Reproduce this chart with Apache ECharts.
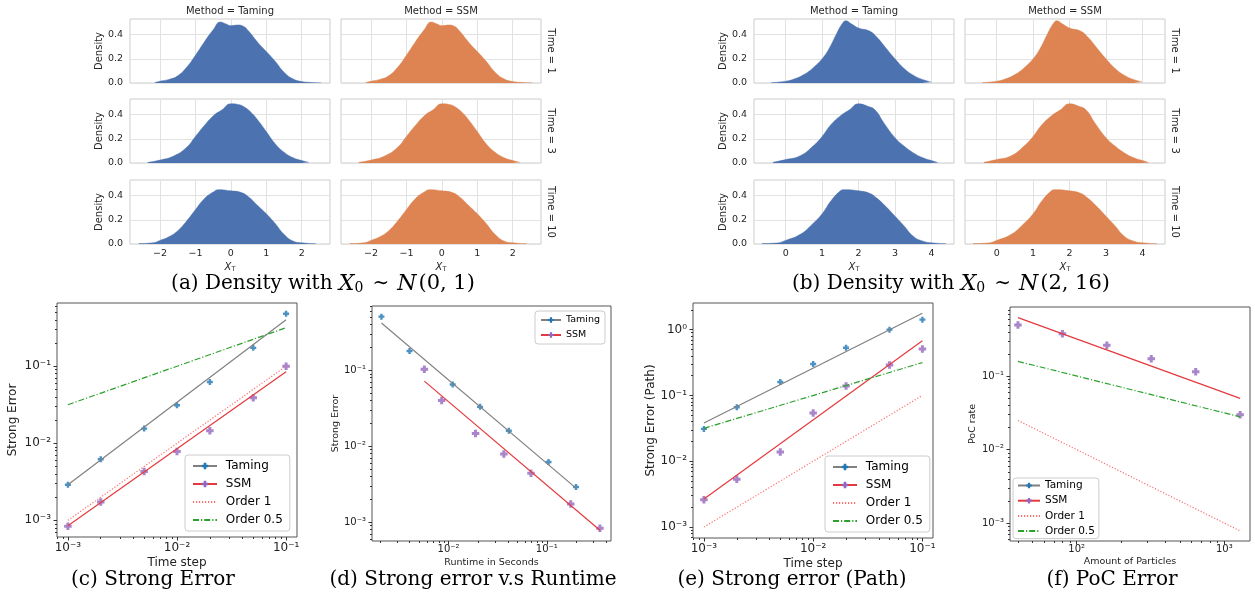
<!DOCTYPE html>
<html>
<head>
<meta charset="utf-8">
<script src="https://cdn.jsdelivr.net/npm/echarts@6/dist/echarts.min.js"></script>
<style>
  html, body { margin: 0; padding: 0; background: #fff; }
  #chart { width: 1255px; height: 598px; }
</style>
</head>
<body>
<div id="chart"></div>
<script>
// density curves [x, density] (Taming and SSM facets look identical)
const densityA1 = [[-2.15, 0.004], [-2.0, 0.015], [-1.75, 0.03], [-1.5, 0.06], [-1.25, 0.13], [-1.0, 0.23], [-0.75, 0.34], [-0.5, 0.44], [-0.3, 0.505], [-0.15, 0.49], [0, 0.475], [0.2, 0.48], [0.35, 0.47], [0.5, 0.43], [0.75, 0.34], [1.0, 0.26], [1.25, 0.18], [1.5, 0.09], [1.75, 0.035], [2.0, 0.012], [2.25, 0.005], [2.55, 0.002]];
const densityA3 = [[-2.35, 0.005], [-2.0, 0.024], [-1.6, 0.06], [-1.25, 0.13], [-1.0, 0.22], [-0.75, 0.31], [-0.5, 0.39], [-0.25, 0.44], [0, 0.49], [0.2, 0.485], [0.4, 0.46], [0.6, 0.41], [0.8, 0.34], [1.0, 0.26], [1.25, 0.16], [1.5, 0.09], [1.75, 0.045], [2.0, 0.02], [2.2, 0.006]];
const densityA10 = [[-2.6, 0.003], [-2.2, 0.01], [-2.0, 0.03], [-1.75, 0.06], [-1.5, 0.11], [-1.25, 0.19], [-1.0, 0.285], [-0.75, 0.375], [-0.5, 0.43], [-0.35, 0.45], [0, 0.44], [0.25, 0.43], [0.5, 0.39], [0.75, 0.32], [1.0, 0.25], [1.25, 0.17], [1.5, 0.08], [1.75, 0.025], [2.0, 0.01], [2.4, 0.003]];
const densityB1 = [[-0.4, 0.003], [0, 0.015], [0.25, 0.035], [0.5, 0.07], [0.75, 0.125], [1.0, 0.2], [1.2, 0.29], [1.4, 0.41], [1.55, 0.49], [1.65, 0.515], [1.8, 0.49], [2.0, 0.455], [2.3, 0.43], [2.5, 0.38], [2.75, 0.29], [3.0, 0.2], [3.25, 0.12], [3.5, 0.065], [3.75, 0.03], [4.0, 0.008]];
const densityB3 = [[-0.35, 0.005], [0, 0.028], [0.4, 0.06], [0.75, 0.14], [1.0, 0.22], [1.25, 0.32], [1.5, 0.39], [1.75, 0.44], [2.0, 0.49], [2.25, 0.47], [2.45, 0.44], [2.7, 0.33], [3.0, 0.21], [3.25, 0.14], [3.5, 0.085], [3.75, 0.045], [4.0, 0.02], [4.17, 0.005]];
const densityB10 = [[-0.65, 0.003], [-0.25, 0.008], [0, 0.03], [0.4, 0.08], [0.75, 0.17], [1.0, 0.25], [1.25, 0.36], [1.5, 0.44], [1.6, 0.45], [2.0, 0.44], [2.3, 0.42], [2.5, 0.38], [2.75, 0.31], [3.0, 0.23], [3.25, 0.15], [3.5, 0.065], [3.75, 0.025], [4.0, 0.01], [4.4, 0.003]];
const ticksA = [-2, -1, 0, 1, 2];
const ticksB = [0, 1, 2, 3, 4];
const densityTicks = [0, 0.2, 0.4];

// (c) strong error vs time step
const timeSteps = [0.001, 0.002, 0.005, 0.01, 0.02, 0.05, 0.1];
const strongTaming = [0.0029, 0.0062, 0.0155, 0.0312, 0.0625, 0.173, 0.48];
const strongSSM = [0.00084, 0.00173, 0.0043, 0.0078, 0.0145, 0.039, 0.1];
const strongTamingFit = [0.0029, 0.40];
const strongSSMFit = [0.00085, 0.085];
const order1 = [0.001, 0.1];
const order05 = [0.0316, 0.316];

// (d) strong error vs runtime
const runtimeTaming = [0.00207, 0.0040, 0.011, 0.0209, 0.041, 0.104, 0.198];
const runtimeTamingErr = [0.51, 0.18, 0.065, 0.033, 0.016, 0.0062, 0.0029];
const runtimeSSM = [0.00566, 0.0085, 0.0188, 0.0365, 0.069, 0.175, 0.347];
const runtimeSSMErr = [0.103, 0.040, 0.0147, 0.0079, 0.0044, 0.00173, 0.00083];
const runtimeTamingFit = [0.42, 0.0028];
const runtimeSSMFit = [0.072, 0.00078];

// (e) strong error (path)
const pathTaming = [0.031, 0.066, 0.16, 0.30, 0.53, 1.0, 1.42];
const pathSSM = [0.0026, 0.0053, 0.0138, 0.054, 0.139, 0.29, 0.51];
const pathTamingFit = [0.038, 1.77];
const pathSSMFit = [0.00266, 0.68];

// (f) PoC error
const particles = [40, 80, 160, 320, 640, 1280];
const pocSSM = [0.50, 0.38, 0.265, 0.174, 0.115, 0.030];
const pocSSMFit = [0.63, 0.050];
const pocOrder1 = [0.025, 0.00078];
const pocOrder05 = [0.16, 0.028];

const SANS = 'DejaVu Sans';
const SERIF = 'DejaVu Serif';
const BLUE = '#4c72b0', ORANGE = '#dd8452';
const TAMING = '#1f77b4', SSM = '#9467bd';
// filled plus, like matplotlib's 'P'
const plusPath = 'path://M3,0H7V3H10V7H7V10H3V7H0V3H3Z';

const zip = (xs, ys) => xs.map((x, i) => [x, ys[i]]);
const ends = (xs, ys) => [[xs[0], ys[0]], [xs[xs.length - 1], ys[1]]];

const supMap = { '-': '⁻', '0': '⁰', '1': '¹', '2': '²', '3': '³', '4': '⁴', '5': '⁵', '6': '⁶', '7': '⁷', '8': '⁸', '9': '⁹' };
function powLabel(v) {
    const e = Math.round(Math.log10(v));
    return '10' + String(e).split('').map(c => supMap[c]).join('');
}
function minorTicks(lo, hi) {
    const out = [];
    for (let e = Math.floor(lo); e <= Math.ceil(hi); e++) {
        for (let k = 2; k <= 9; k++) {
            const v = k * Math.pow(10, e);
            if (Math.log10(v) > lo && Math.log10(v) < hi) out.push(v);
        }
    }
    return out;
}

const grid = [], xAxis = [], yAxis = [], series = [];

// ---- density facets ----
function addDensityPanel(lefts, xr, ticks, rows) {
    const tops = [19, 99, 180];
    rows.forEach((data, r) => {
        lefts.forEach((left, c) => {
            const gi = grid.length;
            grid.push({ left: left, top: tops[r], width: 200, height: 64, show: true,
                borderColor: '#cccccc', borderWidth: 1, backgroundColor: '#fff' });
            xAxis.push({
                type: 'value', gridIndex: gi, min: xr[0], max: xr[1],
                axisLine: { show: false },
                axisTick: { show: false, customValues: ticks },
                axisLabel: { show: r === 2, customValues: ticks, fontSize: 9.5, color: '#262626', margin: 5,
                    formatter: v => String(v).replace('-', '−') },
                splitLine: { show: true, lineStyle: { color: '#e2e2e2', width: 1 } },
                name: r === 2 ? '{x|X}{t|T}' : '', nameLocation: 'middle', nameGap: 17,
                nameTextStyle: { rich: {
                    x: { fontFamily: SANS, fontStyle: 'italic', fontSize: 10, color: '#262626' },
                    t: { fontFamily: SANS, fontSize: 6.5, color: '#262626', padding: [5, 0, 0, 0] }
                } }
            });
            yAxis.push({
                type: 'value', gridIndex: gi, min: 0, max: 0.53,
                axisLine: { show: false },
                axisTick: { show: false, customValues: densityTicks },
                axisLabel: { show: c === 0, customValues: densityTicks, fontSize: 9.5, color: '#262626', margin: 7,
                    formatter: v => v.toFixed(1) },
                splitLine: { show: true, lineStyle: { color: '#e2e2e2', width: 1 } },
                name: c === 0 ? 'Density' : '', nameLocation: 'middle', nameRotate: 90, nameGap: 25,
                nameTextStyle: { fontSize: 10, color: '#262626' }
            });
            const col = c === 0 ? BLUE : ORANGE;
            series.push({
                type: 'line', xAxisIndex: gi, yAxisIndex: gi, data: data, smooth: 0.5,
                symbol: 'none', silent: true,
                lineStyle: { color: col, width: 0.5 }, itemStyle: { color: col },
                areaStyle: { color: col, opacity: 1 }
            });
        });
    });
}
addDensityPanel([130, 341], [-2.85, 2.8], ticksA, [densityA1, densityA3, densityA10]);
addDensityPanel([754, 965], [-0.87, 4.62], ticksB, [densityB1, densityB3, densityB10]);

// ---- log-log plots ----
function addLogPlot(p) {
    const gi = grid.length;
    grid.push({ left: p.left, top: p.top, width: p.width, height: p.height, show: true,
        borderColor: '#555', borderWidth: 1, backgroundColor: '#fff' });
    const xi = xAxis.length, yi = yAxis.length;
    const lab = { fontSize: p.fs, color: '#222', fontFamily: SANS };
    xAxis.push({
        type: 'log', gridIndex: gi, position: 'bottom', min: Math.pow(10, p.xr[0]), max: Math.pow(10, p.xr[1]),
        axisLine: { show: false },
        axisTick: { length: 3.5, customValues: p.xMajor, lineStyle: { color: '#333' } },
        axisLabel: Object.assign({ customValues: p.xMajor, formatter: powLabel, margin: p.xMargin }, lab),
        splitLine: { show: false },
        name: p.xName, nameLocation: 'middle', nameGap: p.xGap,
        nameTextStyle: { fontSize: p.nameFs, color: '#222' }
    });
    xAxis.push({
        type: 'log', gridIndex: gi, position: 'bottom', min: Math.pow(10, p.xr[0]), max: Math.pow(10, p.xr[1]),
        axisLine: { show: false }, axisLabel: { show: false }, splitLine: { show: false },
        axisTick: { length: 2, customValues: minorTicks(p.xr[0], p.xr[1]), lineStyle: { color: '#333' } }
    });
    yAxis.push({
        type: 'log', gridIndex: gi, position: 'left', min: Math.pow(10, p.yr[0]), max: Math.pow(10, p.yr[1]),
        axisLine: { show: false },
        axisTick: { length: 3.5, customValues: p.yMajor, lineStyle: { color: '#333' } },
        axisLabel: Object.assign({ customValues: p.yMajor, formatter: powLabel, margin: 6 }, lab),
        splitLine: { show: false },
        name: p.yName, nameLocation: 'middle', nameRotate: 90, nameGap: p.yGap,
        nameTextStyle: { fontSize: p.nameFs, color: '#222' }
    });
    yAxis.push({
        type: 'log', gridIndex: gi, position: 'left', min: Math.pow(10, p.yr[0]), max: Math.pow(10, p.yr[1]),
        axisLine: { show: false }, axisLabel: { show: false }, splitLine: { show: false },
        axisTick: { length: 2, customValues: minorTicks(p.yr[0], p.yr[1]), lineStyle: { color: '#333' } }
    });
    return { xAxisIndex: xi, yAxisIndex: yi };
}

function fitLine(ax, name, data, lineColor, dotColor) {
    series.push(Object.assign({ type: 'line', name: name, data: data, symbol: plusPath, showSymbol: false,
        silent: true, lineStyle: { color: lineColor, width: 1.2 }, itemStyle: { color: dotColor } }, ax));
}
function refLine(ax, name, data, color, dash) {
    series.push(Object.assign({ type: 'line', name: name, data: data, symbol: 'none', silent: true,
        lineStyle: { color: color, width: 1.2, type: dash }, itemStyle: { color: color } }, ax));
}
function points(ax, name, data, color, size) {
    series.push(Object.assign({ type: 'scatter', name: name, data: data, symbol: plusPath, symbolSize: size,
        silent: true, itemStyle: { color: color } }, ax));
}
const RED = '#e4393e', RED_DOT = '#ff6f6f', GREEN = '#2ca02c', GRAY = '#808080';
const DOT = [1.2, 1.8], DASHDOT = [6, 2, 1.2, 2];

const axC = addLogPlot({ left: 57, top: 303, width: 240, height: 234, xr: [-3.1, -0.9], yr: [-3.216, -0.18],
    xMajor: [0.001, 0.01, 0.1], yMajor: [0.001, 0.01, 0.1], fs: 12, nameFs: 12, xMargin: 5,
    xName: 'Time step', xGap: 20, yName: 'Strong Error', yGap: 38 });
fitLine(axC, 'Taming', ends(timeSteps, strongTamingFit), GRAY, TAMING);
fitLine(axC, 'SSM', ends(timeSteps, strongSSMFit), RED, SSM);
refLine(axC, 'Order 1', ends(timeSteps, order1), RED_DOT, DOT);
refLine(axC, 'Order 0.5', ends(timeSteps, order05), GREEN, DASHDOT);
points(axC, 'Taming points', zip(timeSteps, strongTaming), TAMING, 6);
points(axC, 'SSM points', zip(timeSteps, strongSSM), SSM, 7.5);

const axD = addLogPlot({ left: 372, top: 306, width: 239, height: 235, xr: [-2.78, -0.347], yr: [-3.25, -0.152],
    xMajor: [0.01, 0.1], yMajor: [0.001, 0.01, 0.1], fs: 10, nameFs: 9.5, xMargin: 3,
    xName: 'Runtime in Seconds', xGap: 17, yName: 'Strong Error', yGap: 31 });
fitLine(axD, 'Taming', ends(runtimeTaming, runtimeTamingFit), GRAY, TAMING);
fitLine(axD, 'SSM', ends(runtimeSSM, runtimeSSMFit), RED, SSM);
points(axD, 'Taming points', zip(runtimeTaming, runtimeTamingErr), TAMING, 6);
points(axD, 'SSM points', zip(runtimeSSM, runtimeSSMErr), SSM, 7.5);

const axE = addLogPlot({ left: 693, top: 303, width: 240, height: 235, xr: [-3.1, -0.903], yr: [-3.167, 0.405],
    xMajor: [0.001, 0.01, 0.1], yMajor: [0.001, 0.01, 0.1, 1], fs: 12, nameFs: 12, xMargin: 5,
    xName: 'Time step', xGap: 20, yName: 'Strong Error (Path)', yGap: 36 });
fitLine(axE, 'Taming', ends(timeSteps, pathTamingFit), GRAY, TAMING);
fitLine(axE, 'SSM', ends(timeSteps, pathSSMFit), RED, SSM);
refLine(axE, 'Order 1', ends(timeSteps, order1), RED_DOT, DOT);
refLine(axE, 'Order 0.5', ends(timeSteps, order05), GREEN, DASHDOT);
points(axE, 'Taming points', zip(timeSteps, pathTaming), TAMING, 6);
points(axE, 'SSM points', zip(timeSteps, pathSSM), SSM, 7.5);

const axF = addLogPlot({ left: 1010, top: 307, width: 240, height: 234, xr: [1.548, 3.174], yr: [-3.245, -0.055],
    xMajor: [100, 1000], yMajor: [0.001, 0.01, 0.1], fs: 10, nameFs: 9.5, xMargin: 3,
    xName: 'Amount of Particles', xGap: 16, yName: 'PoC rate', yGap: 32 });
fitLine(axF, 'SSM', ends(particles, pocSSMFit), RED, SSM);
refLine(axF, 'Order 1', ends(particles, pocOrder1), RED_DOT, DOT);
refLine(axF, 'Order 0.5', ends(particles, pocOrder05), GREEN, DASHDOT);
points(axF, 'SSM points', zip(particles, pocSSM), SSM, 7.5);

// legends
const fourItems = ['Taming', 'SSM', { name: 'Order 1', itemStyle: { opacity: 0 } }, { name: 'Order 0.5', itemStyle: { opacity: 0 } }];
const legendBase = { orient: 'vertical', selectedMode: false, backgroundColor: 'rgba(255,255,255,0.85)',
    borderColor: '#cccccc', borderWidth: 1, borderRadius: 3 };
const legend = [
    Object.assign({ left: 185, top: 455, data: fourItems, itemWidth: 24, itemHeight: 8, itemGap: 6, padding: [5, 7],
        formatter: ' {name}', textStyle: { fontSize: 12, color: '#000' } }, legendBase),
    Object.assign({ left: 535, top: 311, data: ['Taming', 'SSM'], itemWidth: 20, itemHeight: 7, itemGap: 5, padding: [4, 5],
        textStyle: { fontSize: 9.5, color: '#000' } }, legendBase),
    Object.assign({ left: 825, top: 456, data: fourItems, itemWidth: 24, itemHeight: 8, itemGap: 6, padding: [5, 7],
        formatter: ' {name}', textStyle: { fontSize: 12, color: '#000' } }, legendBase),
    Object.assign({ left: 1013, top: 478, data: fourItems, itemWidth: 22, itemHeight: 7, itemGap: 4.2, padding: [2, 4],
        textStyle: { fontSize: 10.5, color: '#000' } }, legendBase)
];

// facet titles, row labels and sub-captions
const txt = (x, y, text, size, extra) => Object.assign({ type: 'text', x: x, y: y, silent: true,
    style: { text: text, fontSize: size, fontFamily: SANS, fill: '#262626', align: 'center', verticalAlign: 'middle' } }, extra || {});
const capRich = {
    n: { fontFamily: SERIF, fontSize: 20, color: '#000' },
    i: { fontFamily: SERIF, fontStyle: 'italic', fontSize: 22, color: '#000' },
    s: { fontFamily: SERIF, fontSize: 14, color: '#000', padding: [9, 1, 0, 0] },
    m: { fontFamily: SERIF, fontSize: 20, color: '#000', padding: [0, 8] },
    p: { fontFamily: SERIF, fontSize: 21, color: '#000', padding: [0, 0, 0, 2] }
};
const caption = (x, y, text) => ({ type: 'text', x: x, y: y, silent: true,
    style: { text: text, rich: capRich, align: 'center', verticalAlign: 'middle', fontFamily: SERIF, fontSize: 20, fill: '#000' } });
const graphicEls = [
    txt(230, 11, 'Method = Taming', 10), txt(441, 11, 'Method = SSM', 10),
    txt(854, 11, 'Method = Taming', 10), txt(1065, 11, 'Method = SSM', 10)
];
['Time = 1', 'Time = 3', 'Time = 10'].forEach((t, r) => {
    const y = [51, 131, 212][r];
    graphicEls.push(txt(551, y, t, 10, { rotation: -Math.PI / 2 }));
    graphicEls.push(txt(1175, y, t, 10, { rotation: -Math.PI / 2 }));
});
graphicEls.push(
    caption(323, 284, '{n|(a) Density with }{i|X}{s|0}{m|∼}{i|N}{p|(0, 1)}'),
    caption(951, 284, '{n|(b) Density with }{i|X}{s|0}{m|∼}{i|N}{p|(2, 16)}'),
    caption(153, 580, '{n|(c) Strong Error}'),
    caption(473, 580, '{n|(d) Strong error v.s Runtime}'),
    caption(792, 580, '{n|(e) Strong error (Path)}'),
    caption(1112, 580, '{n|(f) PoC Error}')
);

const chart = echarts.init(document.getElementById('chart'));
chart.setOption({
    animation: false,
    backgroundColor: '#fff',
    textStyle: { fontFamily: SANS },
    grid: grid,
    xAxis: xAxis,
    yAxis: yAxis,
    legend: legend,
    series: series,
    graphic: { elements: graphicEls }
});
</script>
</body>
</html>
